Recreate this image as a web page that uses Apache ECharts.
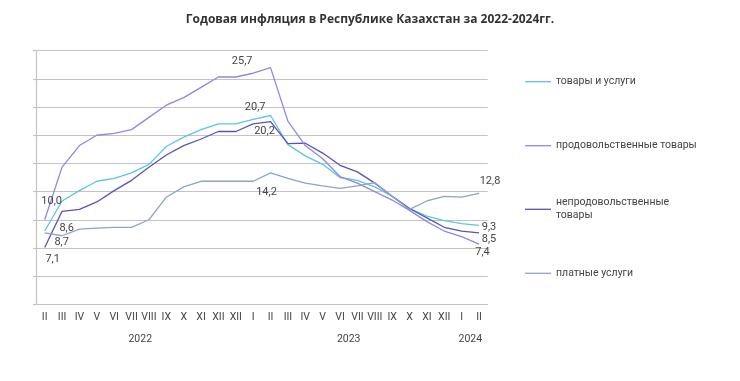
<!DOCTYPE html>
<html><head><meta charset="utf-8">
<script src="https://cdn.jsdelivr.net/npm/echarts@6/dist/echarts.min.js"></script>
<style>html,body{margin:0;padding:0;background:#fff}#c{width:740px;height:381px}</style>
</head><body><div id="c"></div>
<script>
// ---- data ----
const chartTitle = 'Годовая инфляция в Республике Казахстан за 2022-2024гг.';
const months = ['II','III','IV','V','VI','VII','VIII','IX','X','XI','XII','XII','I','II','III','IV','V','VI','VII','VIII','IX','X','XI','XII','I','II'];
const years = ['2022','2023','2024'];
const yearMonthCounts = [12, 12, 2];
const seriesNames = ['товары и услуги', 'продовольственные товары', 'непродовольственные товары', 'платные услуги'];
const goodsServices = [8.8,12.0,13.1,14.1,14.4,15.0,15.9,17.8,18.8,19.6,20.2,20.2,20.7,21.1,18.0,16.8,15.9,14.5,14.2,13.5,12.5,11.2,10.4,9.9,9.6,9.4];
const food          = [10.0,15.6,17.9,19.0,19.2,19.6,20.9,22.2,23.0,24.1,25.2,25.2,25.6,26.2,20.5,17.9,16.5,14.6,13.9,13.0,12.1,11.0,9.8,8.8,8.2,7.4];
const nonFood       = [7.05,10.9,11.1,11.9,13.1,14.2,15.6,16.9,17.9,18.6,19.4,19.4,20.2,20.45,18.1,18.15,17.1,15.8,15.1,13.9,12.5,11.2,10.2,9.2,8.8,8.6];
const paidServices  = [8.6,8.3,9.0,9.1,9.2,9.2,10.0,12.4,13.5,14.1,14.1,14.1,14.1,15.0,14.4,13.9,13.6,13.35,13.6,13.95,12.5,11.1,12.0,12.5,12.4,12.8];
// value labels: [series index, point index, text]
const valueLabels = [
  [1, 0, '10,0'], [2, 0, '7,1'], [0, 0, '8,7'], [3, 0, '8,6'],
  [1, 12, '25,7'], [0, 12, '20,7'], [2, 13, '20,2'], [3, 13, '14,2'],
  [3, 25, '12,8'], [0, 25, '9,3'], [2, 25, '8,5'], [1, 25, '7,4']
];

// ---- styling / layout ----
const colors = ['#5cc6e0', '#8f88e3', '#5a52b8', '#8ea3c6'];
const labelOffsets = {
  '1-0': [7, -19], '2-0': [8, 12], '0-0': [17, 11], '3-0': [22, -5],
  '1-12': [-11, -11.5], '0-12': [2, -12], '2-13': [-6, 10], '3-13': [-4, 19.5],
  '3-25': [11, -12], '0-25': [10, 2], '2-25': [10, 6.5], '1-25': [3.5, 8.5]
};
const allValues = [goodsServices, food, nonFood, paidServices];
const FONT = 'Roboto';

function buildData(si) {
  return allValues[si].map((v, i) => {
    const lab = valueLabels.find(l => l[0] === si && l[1] === i);
    if (!lab) return v;
    return {
      value: v,
      label: {
        show: true, position: 'inside', offset: labelOffsets[si + '-' + i],
        formatter: lab[2], color: '#444', fontSize: 11, fontFamily: FONT
      }
    };
  });
}

// year centres from group sizes
const yearCenters = [];
{ let s = 0; yearMonthCounts.forEach(c => { yearCenters.push(s + c / 2); s += c; }); }

const gridRect = { left: 36, right: 252.3, top: 50.7, bottom: 76.7 };

const legendTops = [75.2, 139.2, 189.8, 266.8];
const legends = seriesNames.map((n, i) => ({
  data: [n], orient: 'vertical', left: 525, top: legendTops[i], padding: 0,
  icon: 'rect', itemWidth: 26, itemHeight: 1.3, itemGap: 5,
  selectedMode: false,
  formatter: i === 2 ? 'непродовольственные\nтовары' : '{name}',
  textStyle: { color: '#444', fontSize: 10.5, fontFamily: FONT, lineHeight: 13,
               padding: i === 2 ? [13, 0, 0, 0] : 0 }
}));

const option = {
  animation: false,
  backgroundColor: '#fff',
  color: colors,
  title: {
    text: chartTitle, left: 'center', top: 14, padding: 0,
    textStyle: { fontSize: 12, fontWeight: 'bold', color: '#333', fontFamily: 'Open Sans' }
  },
  legend: legends,
  grid: [Object.assign({}, gridRect), Object.assign({}, gridRect)],
  xAxis: [{
    type: 'category', data: months, boundaryGap: true, gridIndex: 0,
    axisLine: { show: true, lineStyle: { color: '#c4c4c4', width: 1.2 } },
    axisTick: { show: false },
    axisLabel: { interval: 0, margin: 8, color: '#444', fontSize: 10.5, fontFamily: FONT }
  }, {
    type: 'value', gridIndex: 1, min: 0, max: months.length, position: 'bottom',
    axisLine: { show: false }, axisTick: { show: false }, splitLine: { show: false },
    axisLabel: {
      customValues: yearCenters, margin: 29.5, color: '#444', fontSize: 10.5, fontFamily: FONT,
      formatter: v => { const k = yearCenters.indexOf(v); return k >= 0 ? years[k] : ''; }
    }
  }],
  yAxis: [{
    type: 'value', gridIndex: 0, min: 1, max: 28, interval: 3,
    axisLine: { show: true, lineStyle: { color: '#c4c4c4', width: 1.2 } },
    axisTick: { show: true, length: 3, lineStyle: { color: '#c4c4c4', width: 1.2 } },
    axisLabel: { show: false },
    splitLine: { show: true, lineStyle: { color: '#c4c4c4', width: 1.2 } }
  }, {
    type: 'value', gridIndex: 1, show: false, min: 0, max: 1
  }],
  series: seriesNames.map((n, i) => ({
    name: n, type: 'line', xAxisIndex: 0, yAxisIndex: 0,
    data: buildData(i),
    symbol: 'circle', symbolSize: 0, showSymbol: true,
    lineStyle: { width: 1.3, color: colors[i] },
    itemStyle: { color: colors[i] },
    emphasis: { disabled: true },
    z: i === 1 ? 3 : 2
  }))
};

const chart = echarts.init(document.getElementById('c'), null, { renderer: 'canvas' });
chart.setOption(option);
</script>
</body></html>
